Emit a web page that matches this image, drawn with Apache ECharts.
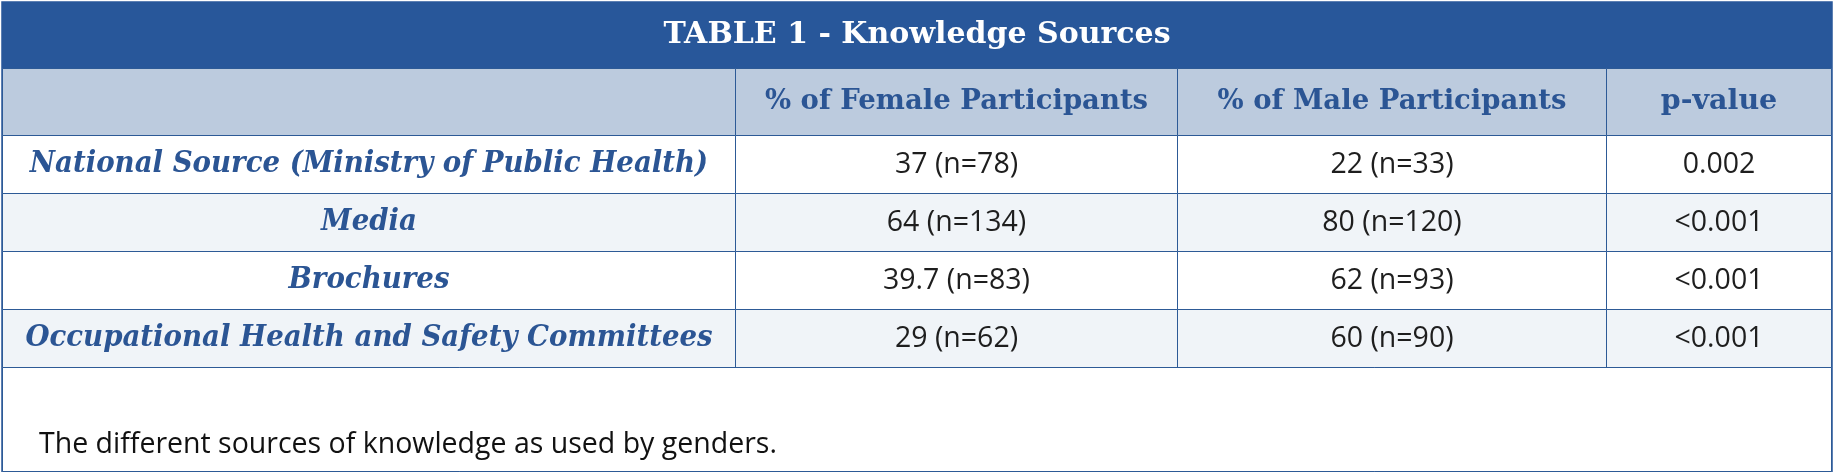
<!DOCTYPE html>
<html>
<head>
<meta charset="utf-8">
<script src="https://cdn.jsdelivr.net/npm/echarts@6/dist/echarts.min.js"></script>
<style>
html,body{margin:0;padding:0;background:#fff;}
#chart{width:1834px;height:472px;}
</style>
</head>
<body>
<div id="chart"></div>
<script>
// ---- data ----
const tableTitle = 'TABLE 1 - Knowledge Sources';
const columnHeaders = ['', '% of Female Participants', '% of Male Participants', 'p-value'];
const sources = [
  'National Source (Ministry of Public Health)',
  'Media',
  'Brochures',
  'Occupational Health and Safety Committees'
];
const femalePct = [37, 64, 39.7, 29];
const femaleN = [78, 134, 83, 62];
const malePct = [22, 80, 62, 60];
const maleN = [33, 120, 93, 90];
const pValues = ['0.002', '<0.001', '<0.001', '<0.001'];
const caption = 'The different sources of knowledge as used by genders.';

// ---- styles ----
const BLUE = '#28579a';
const TEXT_BLUE = '#2b5594';
const HEAD_FILL = '#bccbde';
const ALT_FILL = '#f0f4f8';
const SERIF = '"DejaVu Serif", serif';
const SERIF_COND = '"DejaVu Serif Condensed", "DejaVu Serif", serif';
const SANS = '"Open Sans", "Noto Sans", sans-serif';

const colSizes = [733, 442, 429, 225];
const rowSizes = [66, 67, 58, 58.5, 58, 58, 103.5];

const xData = colSizes.map((s, i) => ({ value: 'c' + i, size: s }));
const yData = rowSizes.map((s, i) => ({ value: 'r' + i, size: s }));

const body = [];
body.push({
  coord: [[0, 3], [0, 0]], mergeCells: true, value: tableTitle,
  itemStyle: { color: BLUE, borderColor: BLUE },
  label: { color: '#fff', fontFamily: SERIF, fontWeight: 'bold', fontSize: 30, padding: [5, 0, 0, 0], overflow: 'none' }
});
columnHeaders.forEach((h, i) => {
  body.push({
    coord: [i, 1], value: h,
    itemStyle: { color: HEAD_FILL },
    label: { color: TEXT_BLUE, fontFamily: SERIF, fontWeight: 'bold', fontSize: i === 3 ? 28.5 : 27.5, padding: [1.5, 0, 0, 0], overflow: 'none' }
  });
});
sources.forEach((src, r) => {
  const fill = r % 2 === 1 ? ALT_FILL : '#ffffff';
  const cells = [
    src,
    femalePct[r] + ' (n=' + femaleN[r] + ')',
    malePct[r] + ' (n=' + maleN[r] + ')',
    pValues[r]
  ];
  cells.forEach((v, c) => {
    body.push({
      coord: [c, r + 2], value: v,
      itemStyle: { color: fill },
      label: c === 0
        ? { color: TEXT_BLUE, fontFamily: SERIF_COND, fontWeight: 'bold', fontStyle: 'italic', fontSize: 30.7, padding: [5, 0, 0, 0], overflow: 'none' }
        : { color: '#1e1e1e', fontFamily: SANS, fontSize: 28.5, padding: [16, 0, 0, 0], overflow: 'none' }
    });
  });
});
body.push({
  coord: [[0, 3], [6, 6]], mergeCells: true, value: '',
  itemStyle: { color: '#ffffff' }
});

const chart = echarts.init(document.getElementById('chart'), null, { renderer: 'canvas' });
chart.setOption({
  backgroundColor: '#ffffff',
  animation: false,
  title: {
    text: caption,
    left: 39,
    top: 428.8,
    padding: 0,
    textStyle: { fontFamily: SANS, fontWeight: 'normal', fontSize: 28.5, lineHeight: 32, color: '#111' }
  },
  matrix: {
    left: 2, top: 2, width: 1829, height: 469,
    x: { show: false, data: xData },
    y: { show: false, data: yData },
    body: {
      itemStyle: { borderColor: '#2d5a96', borderWidth: 1, color: '#fff' },
      label: { show: true },
      data: body
    },
    backgroundStyle: { borderColor: BLUE, borderWidth: 2.5 }
  },
  series: []
});
</script>
</body>
</html>
